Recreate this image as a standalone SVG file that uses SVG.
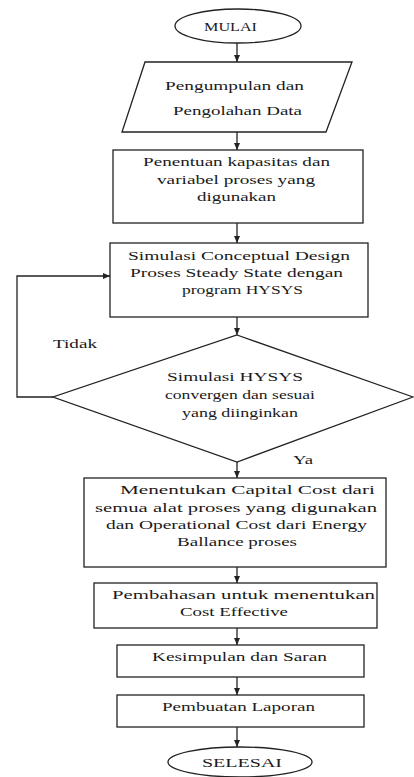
<svg xmlns="http://www.w3.org/2000/svg" width="414" height="777" viewBox="0 0 414 777" font-family="'Liberation Serif', 'DejaVu Serif', serif">
<style>
.s{fill:#fff;stroke:#222;stroke-width:1.3}
.c{fill:none;stroke:#222;stroke-width:1.3}
text{font-family:'Liberation Serif','DejaVu Serif',serif;font-size:13px;fill:#1a1a1a}
</style>
<defs>
<marker id="ah" markerWidth="8" markerHeight="8" refX="7" refY="4" orient="auto" markerUnits="userSpaceOnUse">
<path d="M0,1 L7,4 L0,7 Z" fill="#222"/>
</marker>
</defs>
<rect width="414" height="777" fill="#fff"/>
<g id="connectors">
<line class="c" x1="237" y1="43" x2="237" y2="62" marker-end="url(#ah)"/>
<line class="c" x1="237" y1="132" x2="237" y2="150" marker-end="url(#ah)"/>
<line class="c" x1="237" y1="223" x2="237" y2="243" marker-end="url(#ah)"/>
<line class="c" x1="237" y1="317" x2="237" y2="335" marker-end="url(#ah)"/>
<polyline class="c" points="53,397 17,397 17,276 110,276" marker-end="url(#ah)"/>
<line class="c" x1="237" y1="462" x2="237" y2="478" marker-end="url(#ah)"/>
<line class="c" x1="237" y1="567" x2="237" y2="583" marker-end="url(#ah)"/>
<line class="c" x1="237" y1="628" x2="237" y2="645" marker-end="url(#ah)"/>
<line class="c" x1="237" y1="677" x2="237" y2="695" marker-end="url(#ah)"/>
<line class="c" x1="237" y1="727" x2="237" y2="747" marker-end="url(#ah)"/>
<text x="53" y="348" textLength="44" lengthAdjust="spacingAndGlyphs">Tidak</text>
<text x="293" y="464" textLength="20" lengthAdjust="spacingAndGlyphs">Ya</text>
</g>
<g id="mulai">
<ellipse class="s" cx="238" cy="26" rx="63" ry="17"/>
<text x="204" y="31" textLength="53" lengthAdjust="spacingAndGlyphs">MULAI</text>
</g>
<g id="data">
<polygon class="s" points="145,62 352,62 326,132 122,132"/>
<text x="165" y="90" textLength="139" lengthAdjust="spacingAndGlyphs">Pengumpulan dan</text>
<text x="173" y="115" textLength="129" lengthAdjust="spacingAndGlyphs">Pengolahan Data</text>
</g>
<g id="kapasitas">
<rect class="s" x="113" y="150" width="250" height="73"/>
<text x="143" y="166" textLength="187" lengthAdjust="spacingAndGlyphs">Penentuan kapasitas dan</text>
<text x="157" y="184" textLength="158" lengthAdjust="spacingAndGlyphs">variabel proses yang</text>
<text x="197" y="201" textLength="79" lengthAdjust="spacingAndGlyphs">digunakan</text>
</g>
<g id="simulasi">
<rect class="s" x="110" y="243" width="258" height="74"/>
<text x="128" y="260" textLength="222" lengthAdjust="spacingAndGlyphs">Simulasi Conceptual Design</text>
<text x="130" y="277" textLength="213" lengthAdjust="spacingAndGlyphs">Proses Steady State dengan</text>
<text x="182" y="294" textLength="121" lengthAdjust="spacingAndGlyphs">program HYSYS</text>
</g>
<g id="keputusan">
<polygon class="s" points="237,335 413,397 237,462 53,397"/>
<text x="167" y="381" textLength="136" lengthAdjust="spacingAndGlyphs">Simulasi HYSYS</text>
<text x="165" y="399" textLength="150" lengthAdjust="spacingAndGlyphs">convergen dan sesuai</text>
<text x="182" y="417" textLength="116" lengthAdjust="spacingAndGlyphs">yang diinginkan</text>
</g>
<g id="cost">
<rect class="s" x="84" y="478" width="302" height="89"/>
<text x="120" y="494" textLength="255" lengthAdjust="spacingAndGlyphs">Menentukan Capital Cost dari</text>
<text x="95" y="512" textLength="282" lengthAdjust="spacingAndGlyphs">semua alat proses yang digunakan</text>
<text x="106" y="529" textLength="261" lengthAdjust="spacingAndGlyphs">dan Operational Cost dari Energy</text>
<text x="177" y="546" textLength="120" lengthAdjust="spacingAndGlyphs">Ballance proses</text>
</g>
<g id="pembahasan">
<rect class="s" x="94" y="583" width="283" height="45"/>
<text x="112" y="599" textLength="263" lengthAdjust="spacingAndGlyphs">Pembahasan untuk menentukan</text>
<text x="180" y="616" textLength="108" lengthAdjust="spacingAndGlyphs">Cost Effective</text>
</g>
<g id="kesimpulan">
<rect class="s" x="117" y="645" width="247" height="32"/>
<text x="152" y="661" textLength="175" lengthAdjust="spacingAndGlyphs">Kesimpulan dan Saran</text>
</g>
<g id="laporan">
<rect class="s" x="117" y="695" width="247" height="32"/>
<text x="162" y="711" textLength="153" lengthAdjust="spacingAndGlyphs">Pembuatan Laporan</text>
</g>
<g id="selesai">
<ellipse class="s" cx="240" cy="762" rx="72" ry="15"/>
<text x="202" y="767" textLength="80" lengthAdjust="spacingAndGlyphs">SELESAI</text>
</g>
</svg>
